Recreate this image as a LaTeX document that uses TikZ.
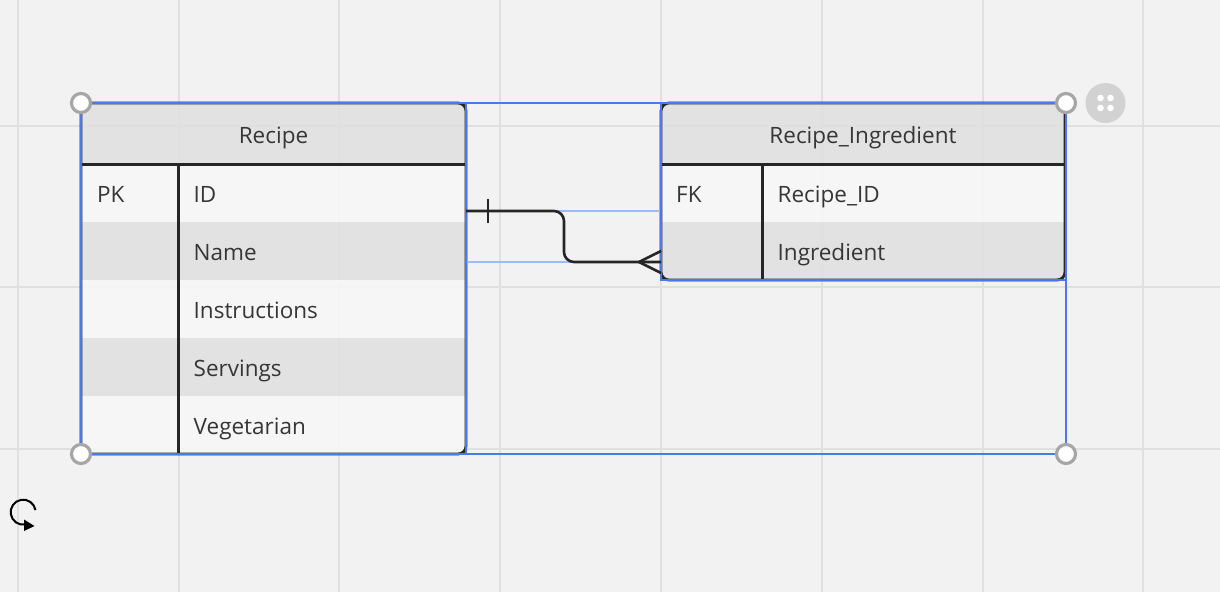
\documentclass[tikz,border=0pt]{standalone}
\usepackage{fontspec}
\setmainfont{Open Sans}
\definecolor{bg}{HTML}{F2F2F2}
\definecolor{gridc}{HTML}{E0E0E0}
\definecolor{hdr}{HTML}{E1E1E1}
\definecolor{lite}{HTML}{F7F7F7}
\definecolor{ink}{HTML}{363636}
\definecolor{edge}{HTML}{262626}
\definecolor{sel}{HTML}{4A78F0}
\definecolor{selL}{HTML}{9BBDF7}
\definecolor{handlec}{HTML}{A6A6A6}
\definecolor{btn}{HTML}{D2D2D2}
\tikzset{
  txt/.style={anchor=base west, inner sep=0pt, text=ink, font=\fontsize{22.5}{27}\selectfont},
  hdrtxt/.style={anchor=base, inner sep=0pt, text=ink, font=\fontsize{22.5}{27}\selectfont},
  gridline/.style={draw=gridc, line width=2},
  tblframe/.style={draw=edge, line width=2.8, rounded corners=8},
  divline/.style={draw=edge, line width=3},
  selbox/.style={draw=sel, line width=1.8},
  sellite/.style={draw=selL, line width=1.6},
  conn/.style={draw=edge, line width=2.6, rounded corners=10},
  handlecirc/.style={draw=handlec, fill=white, line width=3.2},
}
\begin{document}
\begin{tikzpicture}[x=1pt,y=-1pt]
\useasboundingbox (0,0) rectangle (1220,592);
\fill[bg] (0,0) rectangle (1220,592);
% grid
\foreach \gx in {17.7,178.5,339.3,500.1,660.9,821.7,982.5,1143.3}
  \draw[gridline] (\gx,0) -- (\gx,592);
\foreach \gy in {126,287,449}
  \draw[gridline] (0,\gy) -- (1220,\gy);

% ---------- Recipe table ----------
\begin{scope}
  \clip[rounded corners=8] (81,103) rectangle (466,454);
  \begin{scope}[fill opacity=0.9]
    \fill[hdr]  (81,103) rectangle (466,164);
    \fill[lite] (81,164) rectangle (466,222);
    \fill[hdr]  (81,222) rectangle (466,280);
    \fill[lite] (81,280) rectangle (466,338);
    \fill[hdr]  (81,338) rectangle (466,396);
    \fill[lite] (81,396) rectangle (466,454);
  \end{scope}
\end{scope}
\draw[divline] (81,164) -- (466,164);
\draw[divline] (178,164) -- (178,454);
\draw[tblframe] (81,103) rectangle (466,454);

\node[hdrtxt] (recipeT) at (273.5,143.5) {Recipe};
\node[txt] (pk) at (97,202.3) {PK};
\node[txt] (rid) at (193.5,202.3) {ID};
\node[txt] (rname) at (193.5,260.3) {Name};
\node[txt] (rinstr) at (193.5,318.3) {Instructions};
\node[txt] (rserv) at (193.5,376.3) {Servings};
\node[txt] (rveg) at (193.5,434.3) {Vegetarian};

% ---------- Recipe_Ingredient table ----------
\begin{scope}
  \clip[rounded corners=8] (661,103) rectangle (1065,280);
  \begin{scope}[fill opacity=0.9]
    \fill[hdr]  (661,103) rectangle (1065,164);
    \fill[lite] (661,164) rectangle (1065,222);
    \fill[hdr]  (661,222) rectangle (1065,280);
  \end{scope}
\end{scope}
\draw[divline] (661,164) -- (1065,164);
\draw[divline] (762,164) -- (762,280);
\draw[tblframe] (661,103) rectangle (1065,280);

\node[hdrtxt] (riT) at (863,143.5) {Recipe\_Ingredient};
\node[txt] (fk) at (676,202.3) {FK};
\node[txt] (ririd) at (777.5,202.3) {Recipe\_ID};
\node[txt] (riing) at (777.5,260.3) {Ingredient};

% ---------- selection outlines ----------
\draw[sellite] (466,211) -- (661,211);
\draw[sellite] (466,262) -- (661,262);
\draw[selbox] (81,103) rectangle (466,454);
\draw[selbox] (661,103) rectangle (1066,280);
\draw[selbox] (81,103) rectangle (1066,454);

% ---------- connector ----------
\coordinate (cA) at (466,211);
\coordinate (cB) at (661,262);
\coordinate (crow) at (639,262);
\draw[conn] (cA) -- (564,211) -- (564,262) -- (cB);
\draw[draw=edge, line width=2.6] (488,199) -- (488,223);
\draw[draw=edge, line width=2.6, line join=miter] (661,251) -- (crow) -- (661,273);

% ---------- handles ----------
\foreach \hx/\hy in {81/103,1066/103,81/454,1066/454}
  \draw[handlecirc] (\hx,\hy) circle[radius=9.5];

% ---------- button ----------
\fill[btn] (1105.5,103) circle[radius=20];
\foreach \dx/\dy in {-5/-5,5/-5,-5/5,5/5}
  \fill[white] (1105.5+\dx,103+\dy) circle[radius=3.3];

% ---------- rotate icon ----------
\draw[black, line width=2] (35.5,510) arc[start angle=-10, end angle=-280, radius=12.5];
\fill[black] (24,519.5) -- (34.5,526) -- (24,531) -- cycle;
\end{tikzpicture}
\end{document}
